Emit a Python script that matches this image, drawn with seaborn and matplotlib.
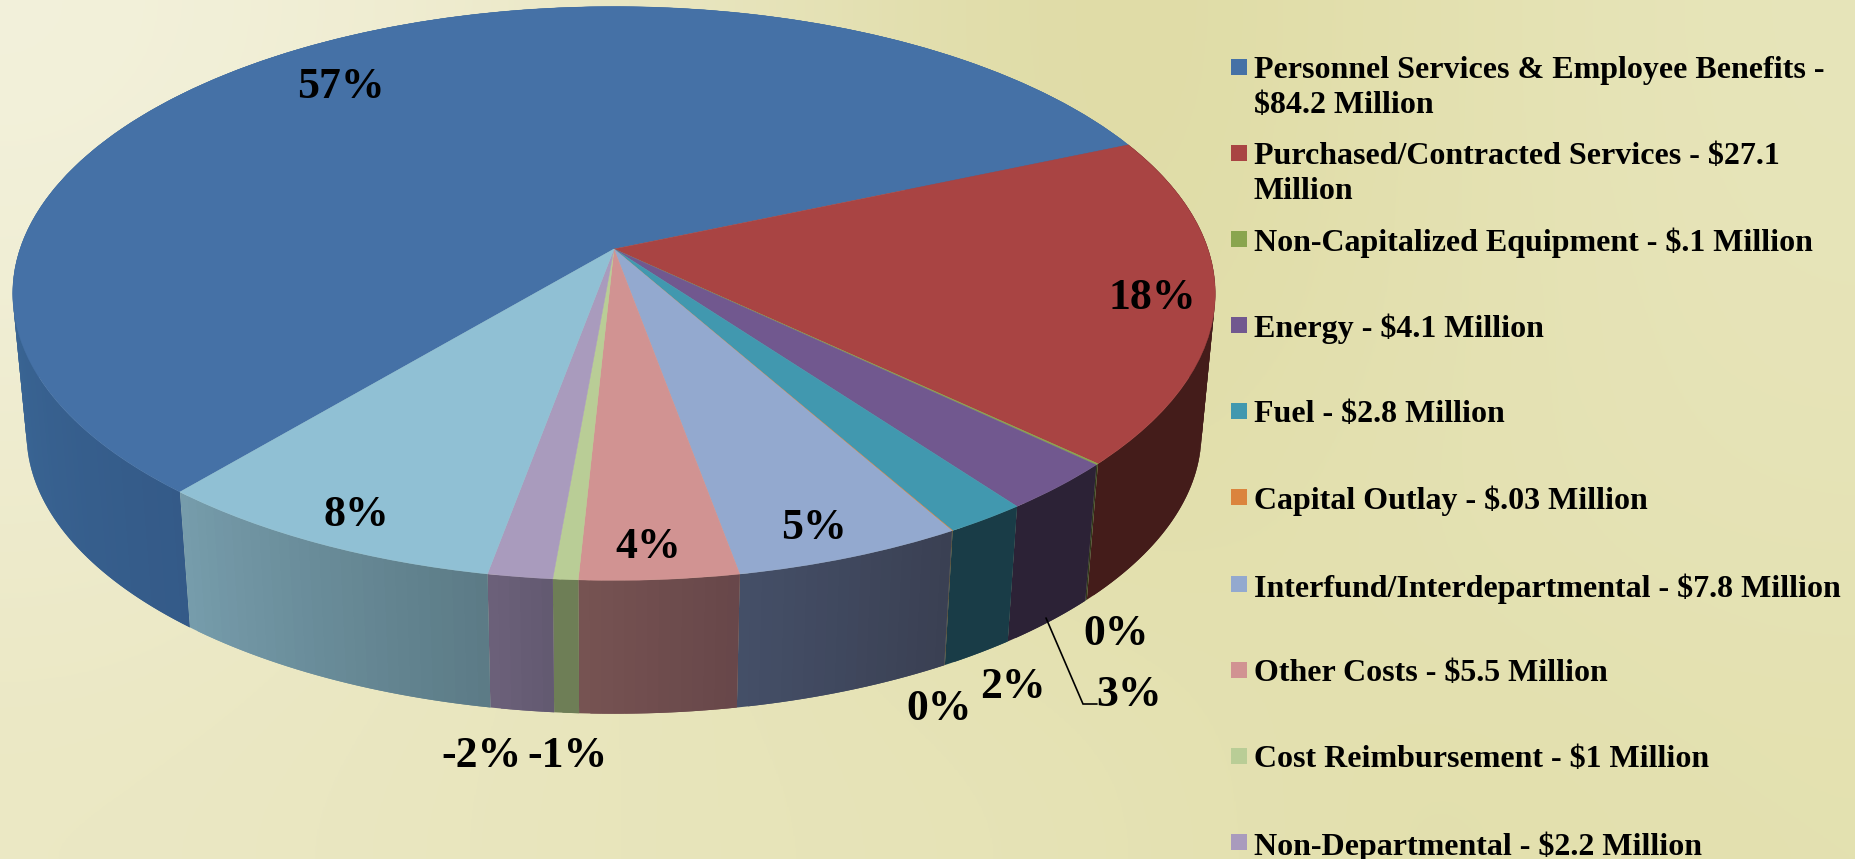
import numpy as np
import matplotlib
matplotlib.use("Agg")
import matplotlib.pyplot as plt
import seaborn as sns
from matplotlib.colors import to_rgb, LinearSegmentedColormap
from matplotlib.patches import Rectangle
from matplotlib.transforms import Transform

# ---- data ----
slice_names = ["Personnel", "Purchased", "NonCap", "Energy", "Fuel", "Capital",
               "Interfund", "Other", "Reimb", "NonDept", "Unlisted"]
amounts = [84.2, 27.1, 0.1, 4.1, 2.8, 0.03, 7.8, 5.4, 0.85, 2.2, 12.1]
legend_labels = [
    "Personnel Services & Employee Benefits -\n$84.2 Million",
    "Purchased/Contracted Services - $27.1\nMillion",
    "Non-Capitalized Equipment - $.1 Million",
    "Energy - $4.1 Million",
    "Fuel - $2.8 Million",
    "Capital Outlay - $.03 Million",
    "Interfund/Interdepartmental - $7.8 Million",
    "Other Costs - $5.5 Million",
    "Cost Reimbursement - $1 Million",
    "Non-Departmental - $2.2 Million",
]
pct_labels = ["57%", "18%", "8%", "4%", "5%", "0%", "3%", "2%", "0%", "-1%", "-2%"]
pct_x = [341, 1152, 356, 648, 814, 1116, 1129, 1013, 939, 568, 482]
pct_y = [87, 298, 515, 547, 528, 634, 695, 687, 709, 756, 756]
top_colors = ["#4571A6", "#A94443", "#89A54E", "#71588F", "#4198AF", "#DB843D",
              "#93A9CF", "#D19392", "#B9CD96", "#A99BBD", "#90C0D4"]
# wall colour at the low-angle and high-angle end of each slice's visible side
wall_low = ["#3B6897", "#441C1A", "#303A1C", "#2C2236", "#193C47", "#3A3020",
            "#444F67", "#765352", "#6E7E56", "#6B6079", "#769CAB"]
wall_high = ["#345A88", "#441C1A", "#303A1C", "#2C2236", "#193C47", "#3A3020",
             "#3A3F52", "#674649", "#6E7E56", "#625970", "#5B7A85"]
bg_grid = [
    ["#F3F1DB", "#EFECD0", "#E6E3B9", "#DEDAA2", "#E3E0AE", "#E7E5BA"],
    ["#F0EED4", "#EBE8C4", "#E5E2B4", "#DFDCA5", "#E3E0B0", "#E7E4B8"],
    ["#EEEBCC", "#EAE7C2", "#E6E3B8", "#E2DFAA", "#E4E1B2", "#E5E3B6"],
    ["#EBE8C4", "#E9E6BE", "#E7E4B9", "#E6E3B6", "#E2DFAC", "#E4E1B0"],
]

sns.set_theme(style="white")
plt.rcParams["font.family"] = ["Liberation Serif", "DejaVu Serif"]
plt.rcParams["font.weight"] = "bold"
palette = sns.color_palette(top_colors)

# ---- perspective of the disc ----
X0, Y0, RX, RY, PERSP = 614.0, 249.0, 594.0, 280.0, 0.155
DEPTH, SHRINK = 141.0, 0.977


def project(x, y):
    w = 1 + PERSP * np.asarray(y)
    return X0 + RX * np.asarray(x) / w, Y0 - RY * np.asarray(y) / w


class DiscTransform(Transform):
    input_dims = output_dims = 2
    is_separable = False
    has_inverse = False

    def transform_non_affine(self, values):
        values = np.asarray(values)
        px, py = project(values[:, 0], values[:, 1])
        return np.column_stack([px, py])


fig = plt.figure(figsize=(18.56, 8.59), dpi=100)
ax = fig.add_axes([0, 0, 1, 1])

wedges, _ = ax.pie(amounts, colors=palette, startangle=229.9, counterclock=False,
                   radius=1.0, wedgeprops=dict(linewidth=0.3))
ax.set_aspect("auto")
ax.set_frame_on(False)

bg = [[to_rgb(c) for c in row] for row in bg_grid]
ax.imshow(bg, extent=(0, 1856, 859, 0), aspect="auto", interpolation="bicubic",
          zorder=0)
ax.set_xlim(0, 1856)
ax.set_ylim(859, 0)

# side wall: overlapping strips so no seams show between them
for wedge, lo, hi in zip(wedges, wall_low, wall_high):
    t1, t2 = wedge.theta1, wedge.theta2
    vis_lo = 180.0 if t1 > 0 and t2 > 180 else t1
    cmap = LinearSegmentedColormap.from_list("w", [lo, hi])
    n = max(2, int((t2 - t1) / 1.0) + 2)
    th = np.radians(np.linspace(t1, t2, n))
    xt, yt = project(np.cos(th), np.sin(th))
    xb = X0 + SHRINK * (xt - X0)
    yb = Y0 + DEPTH + SHRINK * (yt - Y0)
    for i in range(n - 1):
        j = min(i + 2, n - 1)
        f = np.clip((np.degrees(th[i]) - vis_lo) / max(t2 - vis_lo, 1e-6), 0, 1)
        ax.fill(np.r_[xt[i:j + 1], xb[i:j + 1][::-1]],
                np.r_[yt[i:j + 1], yb[i:j + 1][::-1]],
                facecolor=cmap(f), edgecolor="none", linewidth=0, zorder=2)

# top face: the pie's own wedges, seen through the perspective
disc = DiscTransform() + ax.transData
for wedge, col in zip(wedges, palette):
    wedge.set_transform(disc)
    wedge.set_zorder(3)
    wedge.set_edgecolor(col)
    wedge.set_clip_on(False)

# data labels
for s, x, y in zip(pct_labels, pct_x, pct_y):
    ax.text(x, y, s, fontsize=31.5, fontweight="bold", color="black",
            ha="center", va="center", zorder=5)

# leader line of the 3% label
ax.plot([1046, 1083, 1097], [618, 704, 704], color="black", lw=1.2, zorder=4,
        solid_joinstyle="miter")

# legend
legend_y = [67, 153, 239, 325, 411, 497, 584, 670, 756, 842]
for lab, col, y in zip(legend_labels, palette, legend_y):
    ax.add_patch(Rectangle((1231, y - 8), 16, 16, facecolor=col, edgecolor="none",
                           zorder=4))
    ax.text(1254, y - 11, lab, fontsize=23, fontweight="bold", color="black",
            ha="left", va="top", linespacing=1.27, zorder=5, clip_on=False)

fig.savefig("out.png", dpi=100)
